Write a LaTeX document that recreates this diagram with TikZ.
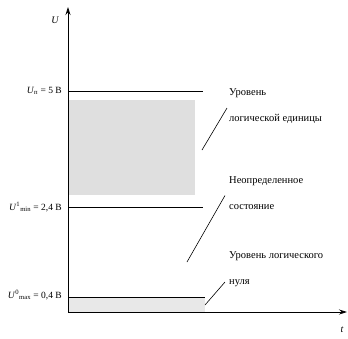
\documentclass[tikz,border=0pt]{standalone}
\usepackage{fontspec}
\setmainfont{Liberation Serif}
\usetikzlibrary{positioning, calc, arrows.meta}

\begin{document}
\begin{tikzpicture}[x=1pt, y=-1pt,
    axis/.style={thick, -{Stealth[length=8pt, width=5pt]}},
    level/.style={thick},
    zone/.style={fill=gray!25},
    val/.style={anchor=east, inner sep=1pt, font=\fontsize{9.5}{10}\selectfont},
    note/.style={anchor=west, align=left, inner sep=0pt, font=\fontsize{10.5}{26}\selectfont},
    ptr/.style={semithick}
]
\useasboundingbox (0,0) rectangle (348,338);

% --- зоны ---
\fill[zone] (68,100) rectangle (195,195);
\fill[zone, gray!18] (68,297) rectangle (205,312);

% --- оси ---
\coordinate (o) at (68,312);
\coordinate (ytip) at (68,7);
\coordinate (xtip) at (347,312);
\draw[axis] (o) -- (ytip);
\draw[axis] (o) -- (xtip);
\node[font=\itshape] (ulab) at (55,20) {U};
\node[font=\itshape] (tlab) at (342,330) {t};

% --- уровни ---
\coordinate (hi) at (68,91);
\coordinate (hiend) at (203,91);
\coordinate (mid) at (68,207);
\coordinate (midend) at (203,207);
\coordinate (lo) at (68,297);
\coordinate (loend) at (205,297);
\draw[level] (hi) -- (hiend);
\draw[level] (mid) -- (midend);
\draw[level] (lo) -- (loend);

\node[val] (uhi) at (63,91) {\textit{U}\textsubscript{п} = 5 В};
\node[val] (umid) at (63,207) {\textit{U}\textsuperscript{1}\textsubscript{min} = 2,4 В};
\node[val] (ulo) at (63,295) {\textit{U}\textsuperscript{0}\textsubscript{max} = 0,4 В};

% --- подписи ---
\node[note] (one) at (229,106) {Уровень\\логической единицы};
\node[note] (two) at (229,193.5) {Неопределенное\\состояние};
\node[note] (three) at (229,269.5) {Уровень логического\\нуля};

\coordinate (p1) at (202,150);
\coordinate (p2) at (187,262);
\coordinate (p3) at (205,305);
\draw[ptr] ($(one.west)+(-2,2)$) -- (p1);
\draw[ptr] ($(two.west)+(-4,2)$) -- (p2);
\draw[ptr] ($(three.west)+(-4,12.5)$) -- (p3);

\end{tikzpicture}
\end{document}
